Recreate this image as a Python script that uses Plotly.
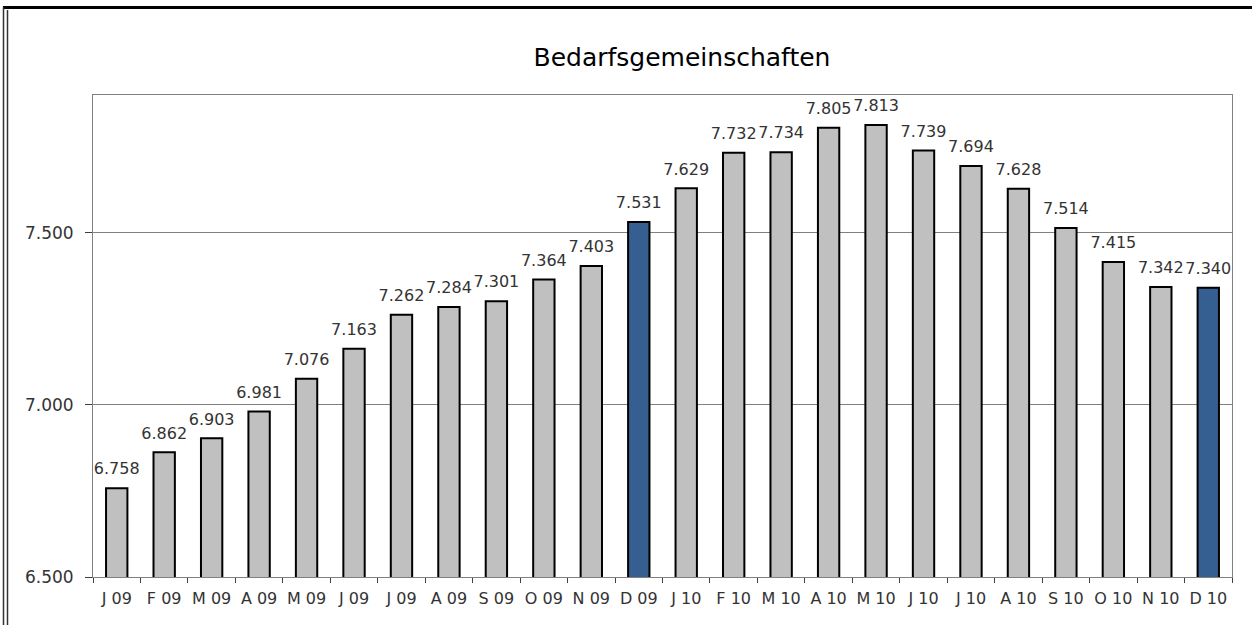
import plotly.graph_objects as go

labels = ["J 09", "F 09", "M 09", "A 09", "M 09", "J 09", "J 09", "A 09", "S 09", "O 09", "N 09", "D 09",
          "J 10", "F 10", "M 10", "A 10", "M 10", "J 10", "J 10", "A 10", "S 10", "O 10", "N 10", "D 10"]
values = [6758, 6862, 6903, 6981, 7076, 7163, 7262, 7284, 7301, 7364, 7403, 7531,
          7629, 7732, 7734, 7805, 7813, 7739, 7694, 7628, 7514, 7415, 7342, 7340]
highlight_idx = [11, 23]
title = "Bedarfsgemeinschaften"

GREY = "#C0C0C0"
BLUE = "#365F91"
FONT = "DejaVu Sans"
TXT = "#333333"

W, H = 1252, 625
L, R, T, B = 93, 20, 95, 48
PW, PH = W - L - R, H - T - B

def px(xp):
    return (xp - L) / PW

def py(yp):
    return (H - B - yp) / PH

x = list(range(len(labels)))
colors = [BLUE if i in highlight_idx else GREY for i in x]
text = [f"{v:,}".replace(",", ".") for v in values]

fig = go.Figure()
fig.add_trace(go.Bar(
    x=x, y=values, marker=dict(color=colors, line=dict(color="black", width=2)),
    width=0.45, hoverinfo="skip",
))
fig.add_trace(go.Scatter(
    x=x, y=values, mode="markers+text", text=text, textposition="top center",
    marker=dict(size=14, opacity=0), cliponaxis=False,
    textfont=dict(family=FONT, size=16, color=TXT),
))

fig.update_layout(
    width=W, height=H,
    margin=dict(l=L, r=R, t=T, b=B),
    paper_bgcolor="white", plot_bgcolor="white",
    separators=",.",
    showlegend=False,
    title=dict(text=title, x=682 / W, xanchor="center", y=1 - 57 / H, yanchor="middle",
               font=dict(family=FONT, size=25, color="black")),
    font=dict(family=FONT, size=16, color=TXT),
)
fig.update_xaxes(
    range=[-0.5, len(labels) - 0.5], tickvals=x, ticktext=labels, ticks="",
    ticklabelstandoff=7,
    showline=True, linecolor="#808080", linewidth=1, mirror=True, showgrid=False,
    minor=dict(ticks="outside", tick0=-0.5, dtick=1, ticklen=5, tickcolor="#404040"),
    tickfont=dict(family=FONT, size=16, color=TXT),
)
fig.update_yaxes(
    range=[6500, 7900], tickvals=[6500, 7000, 7500], tickformat=",d",
    ticks="outside", ticklen=7, tickcolor="#404040", ticklabelstandoff=8,
    showline=True, linecolor="#808080", linewidth=1, mirror=True,
    showgrid=True, gridcolor="#808080", gridwidth=1, zeroline=False,
    tickfont=dict(family=FONT, size=17, color=TXT),
)

# outer frame lines
fig.add_shape(type="line", xref="paper", yref="paper", x0=px(3), x1=px(1260), y0=py(7.5), y1=py(7.5),
              line=dict(color="black", width=3))
fig.add_shape(type="line", xref="paper", yref="paper", x0=px(3.5), x1=px(3.5), y0=py(640), y1=py(7),
              line=dict(color="#333333", width=1.5))
fig.add_shape(type="line", xref="paper", yref="paper", x0=px(7.5), x1=px(7.5), y0=py(640), y1=py(10),
              line=dict(color="#333333", width=1.5))

fig.write_html("out.html", config={"displayModeBar": False},
               post_script="document.body.style.margin='0';")
